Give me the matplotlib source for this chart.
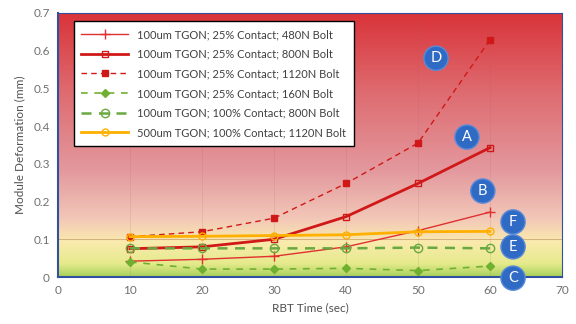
import matplotlib.pyplot as plt
import numpy as np
from matplotlib.colors import LinearSegmentedColormap

# data
rbt_time = [10, 20, 30, 40, 50, 60]

tgon100_25_480 = [0.042, 0.047, 0.055, 0.080, 0.123, 0.172]
tgon100_25_800 = [0.075, 0.080, 0.100, 0.160, 0.248, 0.343]
tgon100_25_1120 = [0.107, 0.120, 0.156, 0.248, 0.355, 0.629]
tgon100_25_160 = [0.040, 0.021, 0.021, 0.023, 0.017, 0.029]
tgon100_100_800 = [0.076, 0.076, 0.076, 0.076, 0.078, 0.076]
tgon500_100_1120 = [0.107, 0.108, 0.110, 0.112, 0.120, 0.121]

labels = [
    '100um TGON; 25% Contact; 480N Bolt',
    '100um TGON; 25% Contact; 800N Bolt',
    '100um TGON; 25% Contact; 1120N Bolt',
    '100um TGON; 25% Contact; 160N Bolt',
    '100um TGON; 100% Contact; 800N Bolt',
    '500um TGON; 100% Contact; 1120N Bolt',
]

callout_letters = ['D', 'A', 'B', 'F', 'E', 'C']
callout_x = [52.5, 56.8, 59.0, 63.2, 63.2, 63.2]
callout_y = [0.58, 0.371, 0.228, 0.146, 0.080, -0.003]

plt.rcParams['font.family'] = ['Lato', 'DejaVu Sans']

fig = plt.figure(figsize=(5.76, 3.24), dpi=100)
ax = fig.add_axes([0.1007, 0.145, 0.875, 0.815])

# background gradient: green at bottom -> yellow -> pink -> red at top
bg = LinearSegmentedColormap.from_list('bg', [
    (0.0, (0.66, 0.82, 0.36)),
    (0.05, (0.90, 0.92, 0.55)),
    (0.13, (0.98, 0.92, 0.68)),
    (0.22, (0.95, 0.78, 0.72)),
    (0.40, (0.89, 0.60, 0.62)),
    (0.70, (0.87, 0.42, 0.44)),
    (1.0, (0.85, 0.20, 0.22)),
])
grad = np.linspace(0, 1, 256).reshape(-1, 1)
ax.imshow(grad, cmap=bg, aspect='auto', origin='lower',
          extent=[0, 70, 0, 0.7], zorder=0)

ax.set_xlim(0, 70)
ax.set_ylim(0, 0.7)
ax.set_xticks(range(0, 71, 10))
ax.set_yticks([0, 0.1, 0.2, 0.3, 0.4, 0.5, 0.6, 0.7])
ax.set_yticklabels(['0', '0.1', '0.2', '0.3', '0.4', '0.5', '0.6', '0.7'])

for x in range(10, 70, 10):
    ax.axvline(x, color='#a06060', lw=0.5, alpha=0.2, zorder=1)
ax.axhline(0.1, color='#b08050', lw=0.6, alpha=0.6, zorder=1)

ax.plot(rbt_time, tgon100_25_480, color='#e03030', lw=1.0,
        marker='+', ms=7, mew=1.0, label=labels[0], zorder=3)
ax.plot(rbt_time, tgon100_25_800, color='#d01818', lw=2.0,
        marker='s', ms=5, mfc='none', mew=1.0, label=labels[1], zorder=3)
ax.plot(rbt_time, tgon100_25_1120, color='#d01818', lw=1.0, ls=(0, (4, 3)),
        marker='s', ms=4.5, label=labels[2], zorder=3)
ax.plot(rbt_time, tgon100_25_160, color='#70b030', lw=1.2, ls=(0, (4, 4)),
        marker='D', ms=4, label=labels[3], zorder=3)
ax.plot(rbt_time, tgon100_100_800, color='#6aa840', lw=1.8, ls=(0, (4, 3)),
        marker='o', ms=6, mfc='none', mew=1.0, label=labels[4], zorder=3)
ax.plot(rbt_time, tgon500_100_1120, color='#ffb000', lw=2.0,
        marker='o', ms=5, mfc='none', mew=1.0, label=labels[5], zorder=3)

for letter, cx, cy in zip(callout_letters, callout_x, callout_y):
    ax.text(cx, cy, letter, color='white', fontsize=10.5, ha='center', va='center',
            zorder=5, clip_on=False,
            bbox=dict(boxstyle='circle,pad=0.35', fc='#2f6bc4', ec='#5a8ad8', lw=1))

leg = ax.legend(loc='upper left', bbox_to_anchor=(0.02, 0.99), fontsize=8,
                frameon=True, fancybox=False, framealpha=1, edgecolor='black',
                handlelength=4.2, borderpad=0.7, labelspacing=0.78)
leg.get_frame().set_linewidth(1.0)
for t in leg.get_texts():
    t.set_color('#404040')

for side in ['left', 'bottom', 'top', 'right']:
    ax.spines[side].set_color('#3050a0')
ax.spines['left'].set_linewidth(1.5)
ax.spines['bottom'].set_linewidth(1.5)
ax.spines['top'].set_linewidth(0.8)
ax.spines['right'].set_linewidth(0.8)

ax.tick_params(length=0, colors='#707070', labelsize=8.5, pad=6)
ax.set_xlabel('RBT Time (sec)', fontsize=8.5, color='#505050', labelpad=4)
ax.set_ylabel('Module Deformation (mm)', fontsize=8.5, color='#505050', labelpad=6)

fig.savefig('out.png', dpi=100)
